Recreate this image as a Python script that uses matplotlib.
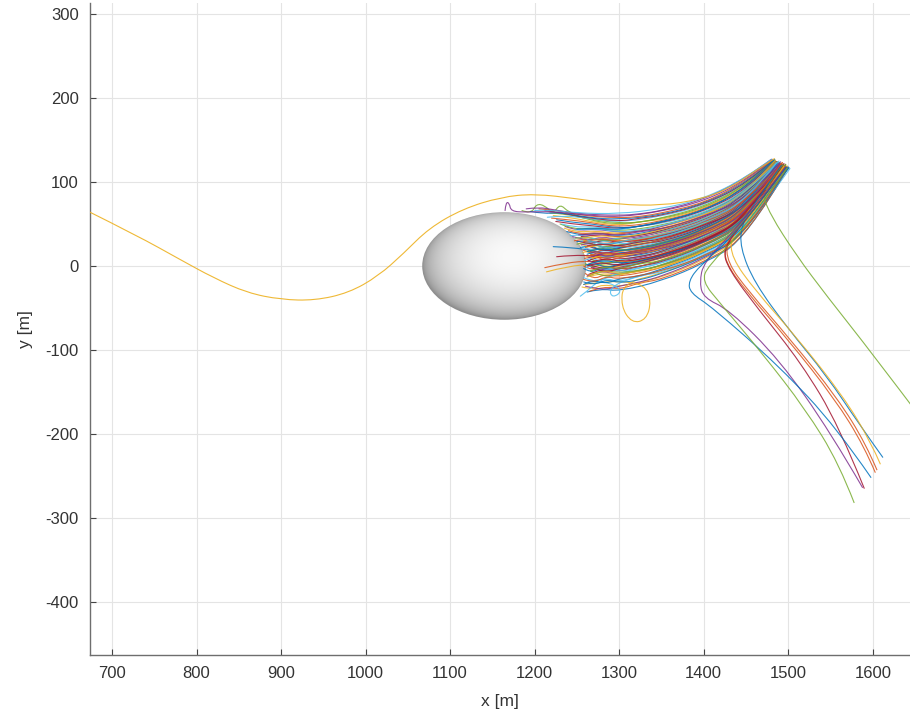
import numpy as np
import matplotlib
matplotlib.use("Agg")
import matplotlib.pyplot as plt
from matplotlib.path import Path
from matplotlib.patches import PathPatch, Ellipse

plt.rcParams['font.family'] = ['Liberation Sans', 'DejaVu Sans']
plt.rcParams['axes.unicode_minus'] = False

# MATLAB default line colour order
line_colors = ["#0072BD", "#D95319", "#EDB120", "#7E2F8E", "#77AC30", "#4DBEEE", "#A2142F"]

# obstacle (ellipsoid seen from above)
obstacle_center = (1164.0, 0.0)
obstacle_radii = (97.0, 64.0)

# axis settings
x_limits = (674, 1644)
y_limits = (-463, 313)
x_ticks = [700, 800, 900, 1000, 1100, 1200, 1300, 1400, 1500, 1600]
y_ticks = [-400, -300, -200, -100, 0, 100, 200, 300]

# trajectories that run into the obstacle, (x, y) waypoints
bundle_paths = [
    [(1500, 117), (1450, 32), (1400, 3), (1350, -18), (1300, -30), (1278, -27), (1262, -31)],
    [(1499, 117), (1450, 36), (1400, 7), (1350, -14), (1300, -25), (1280, -22), (1268, -28), (1256, -25)],
    [(1498, 118), (1450, 39), (1400, 11), (1350, -9), (1305, -20), (1302, -48), (1315, -68), (1332, -64),
     (1338, -42), (1330, -22), (1300, -18), (1272, -20), (1258, -22)],
    [(1497, 118), (1450, 42), (1400, 14), (1350, -6), (1305, -17), (1288, -28), (1292, -38), (1304, -30),
     (1290, -20), (1268, -18), (1258, -14)],
    [(1496, 119), (1450, 45), (1400, 17), (1350, -3), (1300, -13), (1282, -10), (1270, -16), (1260, -9)],
    [(1496, 119), (1450, 47), (1400, 19), (1350, 0), (1300, -11), (1276, -5), (1262, -12)],
    [(1495, 119), (1450, 50), (1400, 22), (1350, 3), (1300, -8), (1275, -18), (1262, -30), (1254, -36)],
    [(1495, 120), (1450, 52), (1400, 24), (1350, 5), (1300, -5), (1280, -2), (1266, -8), (1258, -3)],
    [(1494, 120), (1450, 54), (1400, 26), (1350, 8), (1300, -2), (1270, 2), (1240, 0), (1214, -7)],
    [(1494, 120), (1450, 55), (1400, 28), (1350, 10), (1300, -1), (1282, 4), (1268, -3), (1260, 3)],
    [(1493, 120), (1450, 57), (1400, 29), (1350, 11), (1300, 1), (1278, -4), (1264, 2)],
    [(1493, 121), (1450, 58), (1400, 31), (1350, 13), (1300, 3), (1265, 6), (1238, 4), (1212, -2)],
    [(1492, 121), (1450, 60), (1400, 32), (1350, 15), (1300, 5), (1284, 10), (1270, 2), (1262, 8)],
    [(1492, 121), (1450, 61), (1400, 34), (1350, 16), (1300, 7), (1280, 4), (1266, 11), (1259, 6)],
    [(1492, 121), (1450, 63), (1400, 35), (1350, 18), (1300, 9), (1270, 18), (1245, 22), (1222, 23)],
    [(1491, 121), (1450, 64), (1400, 37), (1350, 20), (1300, 10), (1282, 15), (1268, 8), (1258, 13)],
    [(1491, 122), (1450, 66), (1400, 38), (1350, 22), (1300, 12), (1278, 9), (1264, 16)],
    [(1490, 122), (1450, 67), (1400, 40), (1350, 23), (1300, 14), (1270, 12), (1245, 13), (1226, 11)],
    [(1490, 122), (1450, 68), (1400, 42), (1350, 25), (1300, 16), (1283, 21), (1268, 14), (1257, 19)],
    [(1490, 122), (1450, 70), (1400, 43), (1350, 27), (1300, 18), (1279, 14), (1262, 20)],
    [(1489, 122), (1450, 71), (1400, 45), (1350, 28), (1300, 20), (1284, 25), (1270, 18), (1256, 22)],
    [(1489, 123), (1450, 73), (1400, 46), (1350, 30), (1300, 22), (1280, 18), (1265, 25), (1254, 22)],
    [(1488, 123), (1450, 74), (1400, 48), (1350, 32), (1300, 23), (1282, 28), (1266, 21), (1252, 27)],
    [(1488, 123), (1450, 76), (1400, 49), (1350, 34), (1300, 25), (1278, 22), (1260, 29), (1250, 26)],
    [(1488, 123), (1450, 77), (1400, 51), (1350, 35), (1300, 27), (1282, 32), (1265, 25), (1250, 30)],
    [(1487, 123), (1450, 79), (1400, 52), (1350, 37), (1300, 29), (1278, 26), (1258, 33), (1247, 30)],
    [(1487, 124), (1450, 80), (1400, 54), (1350, 39), (1300, 31), (1280, 35), (1262, 30), (1245, 35)],
    [(1486, 124), (1450, 82), (1400, 55), (1350, 41), (1300, 33), (1276, 30), (1255, 38), (1242, 36)],
    [(1486, 124), (1450, 84), (1400, 58), (1350, 43), (1300, 35), (1275, 40), (1255, 36), (1238, 41)],
    [(1485, 124), (1450, 86), (1400, 60), (1350, 46), (1300, 38), (1272, 42), (1250, 40), (1235, 45)],
    [(1485, 125), (1450, 88), (1400, 62), (1350, 48), (1300, 41), (1270, 46), (1248, 43), (1230, 50)],
    [(1484, 125), (1450, 90), (1400, 65), (1350, 51), (1300, 44), (1268, 48), (1245, 50), (1225, 53)],
    [(1483, 125), (1450, 93), (1400, 67), (1350, 53), (1300, 46), (1265, 52), (1240, 55), (1220, 57)],
    [(1483, 126), (1450, 95), (1400, 69), (1350, 56), (1300, 49), (1262, 55), (1240, 64), (1230, 74),
     (1222, 62), (1212, 72), (1202, 74), (1196, 62), (1185, 66)],
    [(1482, 126), (1450, 97), (1400, 72), (1350, 59), (1300, 52), (1260, 57), (1235, 60), (1215, 58)],
    [(1482, 126), (1450, 99), (1400, 74), (1350, 61), (1300, 55), (1260, 58), (1230, 64), (1210, 62), (1195, 65)],
    [(1481, 127), (1450, 102), (1400, 77), (1350, 65), (1300, 58), (1255, 61), (1220, 65), (1190, 64),
     (1172, 65), (1170, 75), (1166, 76), (1165, 66)],
    [(1480, 127), (1450, 105), (1400, 80), (1350, 68), (1300, 62), (1250, 63), (1215, 67), (1200, 66)],
    [(1497, 121), (1452, 58), (1405, 32), (1352, 12), (1300, 0), (1276, 5), (1262, 0)],
    [(1493, 123), (1448, 68), (1398, 42), (1348, 22), (1300, 12), (1281, 8), (1266, 14)],
    [(1491, 120), (1452, 62), (1402, 36), (1352, 20), (1300, 13), (1283, 18), (1269, 11)],
    [(1489, 124), (1448, 75), (1398, 50), (1348, 33), (1300, 24), (1285, 20), (1270, 27)],
    [(1487, 122), (1452, 72), (1402, 44), (1352, 26), (1300, 17), (1280, 22), (1262, 17)],
    [(1485, 126), (1448, 84), (1398, 58), (1348, 42), (1300, 33), (1278, 37), (1258, 33)],
    [(1495, 118), (1452, 48), (1402, 19), (1352, 0), (1300, -9), (1282, -4), (1266, -11)],
    [(1493, 119), (1448, 55), (1398, 27), (1348, 9), (1300, -3), (1283, -8), (1267, -2)],
    [(1498, 117), (1452, 40), (1402, 12), (1352, -6), (1300, -16), (1285, -12), (1270, -20), (1258, -16)],
    [(1490, 121), (1448, 65), (1398, 39), (1348, 23), (1300, 15), (1283, 10), (1266, 17)],
    [(1486, 123), (1452, 79), (1402, 53), (1352, 37), (1300, 29), (1282, 25), (1262, 31)],
    [(1484, 127), (1448, 91), (1398, 65), (1348, 52), (1300, 43), (1275, 45), (1250, 44)],
]
# colour index for the trajectories with looping ends
bundle_color_override = {2: 2, 3: 5, 33: 4, 36: 3, 37: 5}

# second group of obstacle-bound trajectories (wobblier ends)
bundle_paths_late = [
    [(1500, 117), (1451, 34), (1401, 5), (1350, -16), (1324, -20), (1300, -28), (1283, -24), (1265, -30)],
    [(1499, 118), (1449, 37), (1399, 8), (1351, -12), (1325, -19), (1300, -24), (1280, -29), (1260, -24)],
    [(1498, 118), (1450, 41), (1400, 12), (1349, -8), (1326, -11), (1300, -19), (1282, -14), (1263, -19)],
    [(1497, 119), (1452, 44), (1400, 15), (1350, -4), (1324, -12), (1300, -15), (1285, -21), (1268, -17), (1258, -22)],
    [(1496, 119), (1449, 46), (1401, 18), (1351, -1), (1325, -4), (1300, -12), (1280, -8), (1262, -13)],
    [(1496, 119), (1450, 48), (1399, 20), (1350, 1), (1326, -6), (1300, -9), (1284, -14), (1266, -6)],
    [(1495, 120), (1451, 51), (1400, 23), (1349, 4), (1324, 0), (1300, -7), (1279, -3), (1264, -10)],
    [(1494, 120), (1450, 53), (1401, 25), (1350, 7), (1325, -1), (1300, -4), (1283, 1), (1268, -6), (1258, 0)],
    [(1494, 120), (1449, 55), (1400, 27), (1351, 9), (1326, 5), (1300, -2), (1281, -6), (1264, 0)],
    [(1493, 120), (1450, 56), (1399, 28), (1350, 10), (1324, 3), (1300, 0), (1278, 5), (1261, -2)],
    [(1493, 121), (1451, 58), (1400, 30), (1349, 12), (1325, 9), (1300, 2), (1284, -2), (1270, 4), (1260, 1)],
    [(1493, 121), (1450, 59), (1401, 31), (1350, 14), (1326, 7), (1300, 4), (1280, 9), (1265, 3)],
    [(1492, 121), (1449, 60), (1400, 33), (1351, 16), (1324, 12), (1300, 6), (1282, 2), (1266, 8)],
    [(1492, 121), (1450, 62), (1399, 35), (1350, 17), (1325, 11), (1300, 8), (1279, 13), (1263, 6)],
    [(1491, 121), (1451, 63), (1400, 36), (1349, 19), (1326, 15), (1300, 10), (1285, 6), (1270, 12), (1259, 9)],
    [(1491, 122), (1450, 65), (1401, 38), (1350, 21), (1324, 14), (1300, 11), (1281, 16), (1264, 10)],
    [(1491, 122), (1449, 66), (1400, 39), (1351, 22), (1325, 19), (1300, 13), (1283, 9), (1266, 15)],
    [(1490, 122), (1450, 68), (1399, 41), (1350, 24), (1326, 18), (1300, 15), (1280, 20), (1262, 14)],
    [(1490, 122), (1451, 69), (1400, 42), (1349, 26), (1324, 23), (1300, 17), (1284, 13), (1268, 19), (1257, 16)],
    [(1489, 122), (1450, 71), (1401, 44), (1350, 28), (1325, 21), (1300, 19), (1281, 24), (1263, 18)],
    [(1489, 123), (1449, 72), (1400, 45), (1351, 29), (1326, 27), (1300, 21), (1283, 17), (1265, 23)],
    [(1489, 123), (1450, 74), (1399, 47), (1350, 31), (1324, 25), (1300, 22), (1279, 27), (1260, 22)],
    [(1488, 123), (1451, 75), (1400, 48), (1349, 33), (1325, 31), (1300, 24), (1284, 21), (1266, 28), (1255, 25)],
    [(1488, 123), (1450, 77), (1401, 50), (1350, 35), (1326, 28), (1300, 26), (1280, 31), (1260, 27)],
    [(1487, 123), (1449, 78), (1400, 52), (1351, 36), (1324, 34), (1300, 28), (1283, 25), (1263, 31), (1250, 29)],
    [(1487, 124), (1450, 80), (1399, 53), (1350, 38), (1325, 32), (1300, 30), (1279, 34), (1258, 30)],
    [(1487, 124), (1451, 81), (1400, 55), (1349, 40), (1326, 38), (1300, 32), (1281, 29), (1262, 35), (1248, 33)],
    [(1486, 124), (1450, 83), (1401, 57), (1350, 42), (1324, 36), (1300, 34), (1277, 38), (1255, 35)],
    [(1486, 124), (1449, 85), (1400, 59), (1351, 44), (1325, 43), (1300, 37), (1275, 40), (1252, 38), (1240, 42)],
    [(1485, 125), (1450, 87), (1399, 61), (1350, 47), (1326, 41), (1300, 40), (1272, 44), (1250, 42), (1236, 47)],
    [(1484, 125), (1451, 89), (1400, 63), (1349, 50), (1324, 48), (1300, 42), (1270, 47), (1246, 46), (1232, 50)],
    [(1484, 125), (1450, 92), (1401, 66), (1350, 52), (1325, 47), (1300, 45), (1268, 50), (1244, 52), (1226, 55)],
    [(1483, 126), (1449, 94), (1400, 68), (1351, 55), (1326, 53), (1300, 48), (1266, 53), (1240, 58), (1222, 60)],
    [(1483, 126), (1450, 96), (1399, 70), (1350, 57), (1324, 52), (1300, 51), (1262, 56), (1238, 62), (1218, 63)],
    [(1482, 126), (1451, 98), (1400, 73), (1349, 60), (1325, 57), (1300, 53), (1258, 58), (1232, 63), (1212, 66)],
    [(1481, 126), (1450, 101), (1401, 75), (1350, 63), (1326, 59), (1300, 57), (1256, 60), (1228, 66), (1205, 68)],
    [(1480, 127), (1449, 104), (1400, 79), (1351, 66), (1325, 62), (1300, 60), (1252, 62), (1222, 67),
     (1205, 70), (1190, 68)],
    [(1502, 116), (1452, 45), (1398, 20), (1348, 2), (1323, -2), (1300, -7), (1286, -2), (1272, -9)],
    [(1501, 117), (1448, 52), (1402, 28), (1348, 12), (1324, 6), (1300, 3), (1280, 8), (1263, 2)],
    [(1499, 119), (1452, 58), (1398, 36), (1348, 19), (1323, 16), (1300, 11), (1285, 15), (1268, 9)],
    [(1497, 121), (1448, 65), (1402, 41), (1352, 26), (1326, 20), (1300, 18), (1282, 23), (1265, 17)],
    [(1495, 122), (1452, 70), (1398, 47), (1348, 31), (1323, 29), (1300, 23), (1280, 27), (1262, 24)],
    [(1493, 123), (1448, 74), (1402, 52), (1352, 37), (1326, 31), (1300, 29), (1278, 33), (1258, 29)],
    [(1491, 124), (1452, 80), (1398, 58), (1348, 43), (1323, 41), (1300, 36), (1275, 39), (1252, 37)],
    [(1489, 125), (1448, 85), (1402, 62), (1352, 48), (1326, 43), (1300, 40), (1272, 45), (1248, 43)],
    [(1500, 118), (1452, 38), (1398, 9), (1348, -10), (1323, -17), (1300, -20), (1285, -16), (1270, -23), (1258, -19)],
    [(1498, 119), (1448, 44), (1402, 17), (1352, -2), (1326, -6), (1300, -10), (1280, -5), (1264, -11)],
    [(1496, 120), (1452, 50), (1398, 23), (1348, 5), (1323, 3), (1300, -4), (1282, 0), (1266, -6)],
    [(1494, 121), (1448, 57), (1402, 31), (1352, 14), (1326, 8), (1300, 5), (1284, 10), (1268, 5)],
    [(1492, 122), (1452, 63), (1398, 38), (1348, 21), (1323, 19), (1300, 13), (1280, 17), (1264, 12)],
    [(1490, 123), (1448, 70), (1402, 46), (1352, 30), (1326, 24), (1300, 21), (1282, 25), (1266, 20)],
]

# trajectories that turn away and leave towards the lower right
escape_paths = [
    [(1494, 121), (1468, 90), (1478, 62), (1510, 12), (1545, -35), (1600, -105), (1660, -185)],
    [(1492, 120), (1460, 75), (1445, 50), (1443, 22), (1460, -20), (1500, -75), (1545, -130),
     (1585, -190), (1612, -228)],
    [(1497, 118), (1455, 60), (1425, 28), (1425, 5), (1450, -30), (1500, -88), (1555, -158),
     (1590, -215), (1603, -246)],
    [(1496, 119), (1452, 58), (1427, 30), (1428, 4), (1453, -30), (1503, -88), (1558, -157),
     (1592, -212), (1605, -243)],
    [(1495, 119), (1458, 65), (1432, 35), (1433, 10), (1460, -28), (1510, -85), (1565, -155),
     (1598, -210), (1609, -236)],
    [(1498, 118), (1450, 55), (1422, 20), (1430, -5), (1465, -52), (1515, -115), (1560, -190), (1590, -265)],
    [(1497, 118), (1440, 45), (1400, 5), (1395, -20), (1400, -38), (1430, -52), (1490, -112),
     (1550, -198), (1588, -264)],
    [(1498, 118), (1440, 40), (1395, 0), (1382, -18), (1384, -32), (1410, -49), (1490, -120),
     (1557, -192), (1598, -252)],
    [(1499, 117), (1445, 40), (1405, 0), (1398, -18), (1420, -45), (1470, -105), (1520, -170),
     (1560, -235), (1578, -282)],
]
escape_color_idx = [4, 0, 1, 1, 2, 6, 3, 0, 4]

# trajectory that passes above the obstacle and continues west
bypass_path = [(1484, 128), (1462, 114), (1430, 92), (1395, 79), (1350, 72), (1300, 73), (1250, 80),
               (1200, 86), (1160, 82), (1115, 68), (1075, 45), (1045, 15), (1015, -12), (980, -32),
               (940, -41), (900, -40), (860, -32), (820, -14), (780, 8), (730, 36), (670, 66)]


def smooth_path(points):
    """Quadratic B-spline style path: waypoints act as Bezier control points."""
    pts = np.asarray(points, dtype=float)
    verts = [pts[0]]
    codes = [Path.MOVETO]
    n = len(pts)
    if n == 2:
        verts.append(pts[1])
        codes.append(Path.LINETO)
        return Path(verts, codes)
    for i in range(1, n - 1):
        end = pts[-1] if i == n - 2 else (pts[i] + pts[i + 1]) / 2.0
        verts += [pts[i], end]
        codes += [Path.CURVE3, Path.CURVE3]
    return Path(verts, codes)


fig = plt.figure(figsize=(9.10, 7.14), dpi=100)
ax = fig.add_axes([90 / 910, 59 / 714, 820 / 910, 652 / 714])
ax.set_xlim(*x_limits)
ax.set_ylim(*y_limits)

# shaded obstacle
cx, cy = obstacle_center
rx, ry = obstacle_radii
gx = np.linspace(cx - rx, cx + rx, 400)
gy = np.linspace(cy - ry, cy + ry, 300)
X, Y = np.meshgrid(gx, gy)
u = (X - cx) / rx
v = (Y - cy) / ry
w = np.sqrt(np.clip(1 - u ** 2 - v ** 2, 0, 1))
light = np.array([0.12, 0.18, 1.0])
light = light / np.linalg.norm(light)
ndl = np.clip(u * light[0] + v * light[1] + w * light[2], 0, 1)
shade = 0.56 + 0.42 * ndl ** 0.9
rgb = np.dstack([shade, shade, shade])
im = ax.imshow(rgb, extent=(cx - rx, cx + rx, cy - ry, cy + ry), origin="lower",
               interpolation="bilinear", zorder=1, aspect="auto")
clip = Ellipse((cx, cy), 2 * rx, 2 * ry, transform=ax.transData, facecolor="none", edgecolor="none")
ax.add_patch(clip)
im.set_clip_path(clip)

lw = 0.8
for k, (a, b) in enumerate(zip(bundle_paths, bundle_paths_late)):
    ca = line_colors[bundle_color_override.get(k, (2 * k) % 7)]
    cb = line_colors[(2 * k + 1) % 7]
    for pts, col in ((a, ca), (b, cb)):
        ax.add_patch(PathPatch(smooth_path(pts), fill=False, edgecolor=col,
                               lw=lw, alpha=0.85, zorder=3, capstyle="round", joinstyle="round"))
for k, pts in enumerate(escape_paths):
    ax.add_patch(PathPatch(smooth_path(pts), fill=False, edgecolor=line_colors[escape_color_idx[k]],
                           lw=lw, alpha=0.85, zorder=3))
ax.add_patch(PathPatch(smooth_path(bypass_path), fill=False, edgecolor=line_colors[2],
                       lw=lw, alpha=0.9, zorder=3))

# axes styling
for side in ("top", "right"):
    ax.spines[side].set_visible(False)
for side in ("left", "bottom"):
    ax.spines[side].set_color("#6e6e6e")
    ax.spines[side].set_linewidth(1.0)
ax.set_xticks(x_ticks)
ax.set_yticks(y_ticks)
ax.tick_params(direction="in", length=4, width=0.8, color="#444444",
               labelsize=12, labelcolor="#333333", pad=8)
ax.grid(True, color="#e4e4e4", linewidth=0.8)
ax.set_axisbelow(True)
ax.set_xlabel("x [m]", fontsize=12.5, color="#333333")
ax.set_ylabel("y [m]", fontsize=12.5, color="#333333")
ax.xaxis.set_label_coords(0.5, -0.06)
ax.yaxis.set_label_coords(-0.07, 0.5)

fig.savefig("out.png", dpi=100)
